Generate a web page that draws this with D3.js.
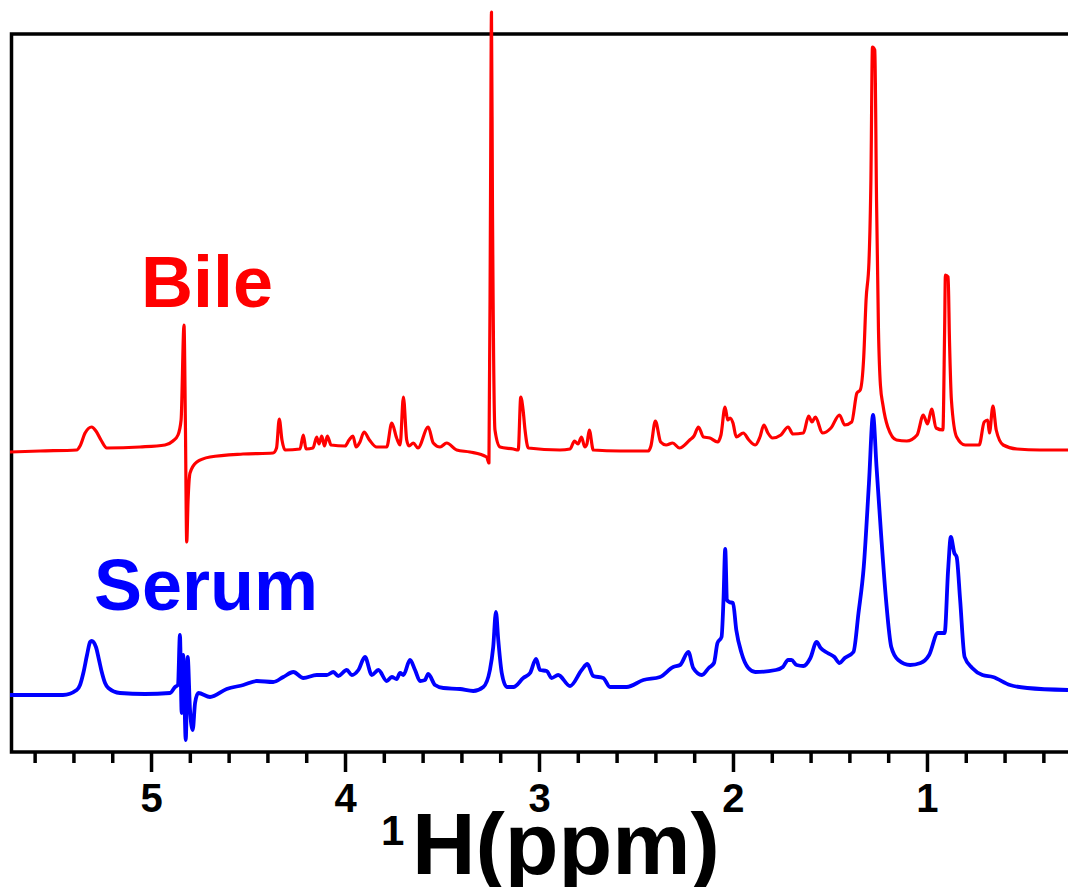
<!DOCTYPE html>
<html>
<head>
<meta charset="utf-8">
<script src="https://cdn.jsdelivr.net/npm/d3@7"></script>
<style>
  body { margin: 0; background: #fff; }
  svg { display: block; font-family: "Liberation Sans", Arial, sans-serif; }
</style>
</head>
<body>
<svg id="nmr" width="1068" height="887"></svg>
<script>
// 1H NMR spectra of bile and serum (ppm, intensity in a.u.)
const bilePpm = [5.727, 5.572, 5.383, 5.366, 5.340, 5.306, 5.284, 5.258, 5.228, 5.057,
  4.928, 4.887, 4.861, 4.845, 4.830, 4.823, 4.816, 4.809, 4.799, 4.764,
  4.696, 4.526, 4.371, 4.353, 4.339, 4.325, 4.309, 4.232, 4.215, 4.201,
  4.165, 4.146, 4.134, 4.120, 4.106, 4.091, 4.072, 4.000, 3.979, 3.959,
  3.943, 3.923, 3.902, 3.874, 3.837, 3.785, 3.759, 3.734, 3.716, 3.699,
  3.682, 3.670, 3.648, 3.624, 3.571, 3.545, 3.510, 3.476, 3.424, 3.356,
  3.270, 3.258, 3.250, 3.245, 3.240, 3.227, 3.201, 3.132, 3.107, 3.094,
  3.082, 3.072, 3.055, 2.892, 2.840, 2.817, 2.799, 2.781, 2.764, 2.753,
  2.741, 2.720, 2.582, 2.436, 2.423, 2.400, 2.373, 2.345, 2.311, 2.276,
  2.223, 2.201, 2.178, 2.152, 2.119, 2.080, 2.062, 2.041, 2.027, 2.015,
  2.000, 1.983, 1.947, 1.918, 1.885, 1.861, 1.841, 1.820, 1.796, 1.753,
  1.716, 1.691, 1.637, 1.610, 1.593, 1.575, 1.539, 1.495, 1.451, 1.424,
  1.388, 1.361, 1.344, 1.326, 1.314, 1.299, 1.289, 1.281, 1.269, 1.260,
  1.250, 1.240, 1.227, 1.202, 1.157, 1.104, 1.051, 1.019, 0.997, 0.976,
  0.953, 0.918, 0.909, 0.905, 0.891, 0.884, 0.874, 0.847, 0.803, 0.731,
  0.705, 0.687, 0.678, 0.660, 0.643, 0.607, 0.536, 0.418, 0.273];
const bileInt = [300, 301, 302, 306, 319, 325, 321, 312, 304, 305,
  307, 311, 317, 332, 427, 332, 210, 252, 279, 290,
  295, 298, 299, 304, 333, 312, 302, 303, 317, 303,
  304, 315, 308, 316, 306, 316, 307, 306, 312, 316,
  305, 310, 320, 312, 305, 305, 329, 314, 307, 355,
  312, 306, 309, 304, 325, 309, 305, 309, 302, 300,
  295, 289, 552, 740, 552, 322, 305, 303, 302, 355,
  342, 322, 304, 302, 303, 311, 308, 315, 305, 308,
  322, 302, 301, 301, 306, 331, 310, 307, 309, 304,
  312, 316, 325, 315, 314, 310, 317, 345, 332, 334,
  329, 315, 319, 312, 307, 315, 327, 319, 314, 317,
  325, 318, 319, 336, 330, 335, 319, 324, 337, 327,
  330, 359, 362, 395, 452, 490, 572, 705, 702, 552,
  422, 367, 347, 325, 312, 311, 317, 337, 328, 343,
  324, 322, 422, 477, 475, 412, 352, 315, 307, 307,
  330, 332, 319, 346, 322, 307, 303, 302, 302];

const serumPpm = [5.727, 5.454, 5.383, 5.366, 5.349, 5.330, 5.314, 5.306, 5.284, 5.268,
  5.254, 5.237, 5.220, 5.160, 5.031, 4.902, 4.876, 4.861, 4.851, 4.842,
  4.834, 4.821, 4.811, 4.799, 4.785, 4.773, 4.756, 4.696, 4.610, 4.524,
  4.455, 4.370, 4.318, 4.266, 4.215, 4.146, 4.094, 4.060, 4.035, 3.991,
  3.965, 3.931, 3.897, 3.862, 3.828, 3.785, 3.759, 3.734, 3.716, 3.699,
  3.665, 3.639, 3.613, 3.588, 3.571, 3.536, 3.493, 3.407, 3.339, 3.287,
  3.253, 3.236, 3.222, 3.210, 3.192, 3.166, 3.132, 3.081, 3.046, 3.015,
  2.995, 2.960, 2.935, 2.901, 2.840, 2.780, 2.751, 2.720, 2.669, 2.634,
  2.548, 2.462, 2.376, 2.308, 2.273, 2.230, 2.205, 2.160, 2.125, 2.098,
  2.080, 2.059, 2.049, 2.040, 2.031, 2.019, 2.000, 1.983, 1.956, 1.921,
  1.885, 1.779, 1.743, 1.716, 1.699, 1.672, 1.637, 1.601, 1.569, 1.548,
  1.512, 1.477, 1.451, 1.424, 1.379, 1.353, 1.326, 1.299, 1.278, 1.260,
  1.237, 1.211, 1.184, 1.148, 1.087, 1.033, 0.989, 0.944, 0.909, 0.891,
  0.877, 0.859, 0.847, 0.829, 0.806, 0.767, 0.714, 0.660, 0.572, 0.483,
  0.273];
const serumInt = [57, 57, 62, 67, 79, 97, 110, 111, 105, 92,
  80, 69, 64, 59, 58, 59, 65, 67, 117, 39,
  97, 12, 95, 42, 22, 49, 59, 55, 63, 67,
  71, 70, 75, 80, 74, 77, 77, 80, 76, 82,
  77, 82, 95, 77, 82, 71, 75, 73, 79, 77,
  92, 82, 71, 72, 78, 67, 64, 63, 61, 65,
  82, 105, 140, 112, 79, 65, 65, 74, 79, 93,
  82, 81, 74, 77, 66, 82, 88, 76, 74, 65,
  65, 72, 75, 85, 87, 100, 84, 77, 84, 89,
  109, 115, 152, 203, 152, 150, 149, 122, 99, 84,
  80, 82, 85, 92, 92, 87, 86, 94, 110, 104,
  99, 95, 89, 94, 100, 139, 185, 269, 337, 285,
  219, 152, 105, 92, 87, 89, 97, 119, 119, 182,
  215, 199, 195, 152, 95, 84, 77, 75, 67, 64,
  62];

const majorTicks = [5, 4, 3, 2, 1];
const sampleNames = ["Bile", "Serum"];
const sampleColors = ["#ff0000", "#0000ff"];

const svg = d3.select("#nmr");

// chemical shift axis runs right to left
const x = d3.scaleLinear()
    .domain([5.727, 0.273])
    .range([10, 1068]);

const y = d3.scaleLinear()
    .domain([0, 718])
    .range([752, 34]);

// plot frame (right side runs off the picture)
svg.append("path")
    .attr("d", `M1080,${y(718)}H${x(5.727) + 1.5}V${y(0)}H1080`)
    .attr("fill", "none")
    .attr("stroke", "#000")
    .attr("stroke-width", 3.5);

// minor ticks every 0.2 ppm
const minorTicks = d3.range(4, 58, 2).map(v => v / 10).filter(v => v % 1 !== 0);
const minorAxis = svg.append("g")
    .attr("transform", `translate(0,${y(0)})`)
    .call(d3.axisBottom(x).tickValues(minorTicks).tickSize(11).tickSizeOuter(0).tickFormat(""));
minorAxis.select(".domain").remove();
minorAxis.selectAll("line").attr("stroke-width", 3.5);

// major ticks with labels
const majorAxis = svg.append("g")
    .attr("transform", `translate(0,${y(0)})`)
    .call(d3.axisBottom(x).tickValues(majorTicks).tickSize(20).tickSizeOuter(0)
        .tickPadding(12).tickFormat(d3.format("d")));
majorAxis.select(".domain").remove();
majorAxis.selectAll("line").attr("stroke-width", 3.5);
majorAxis.selectAll("text")
    .attr("fill", "#000")
    .style("font-family", "'Liberation Sans', Arial, sans-serif")
    .style("font-weight", "bold")
    .style("font-size", "40px");

// spectra
const line = d3.line()
    .x(d => x(d[0]))
    .y(d => y(d[1]))
    .curve(d3.curveMonotoneX);

const spectra = [
    d3.zip(bilePpm, bileInt),
    d3.zip(serumPpm, serumInt)
];

svg.selectAll(".spectrum")
    .data(spectra)
    .enter()
    .append("path")
    .attr("class", "spectrum")
    .attr("d", line)
    .attr("fill", "none")
    .attr("stroke", (d, i) => sampleColors[i])
    .attr("stroke-width", (d, i) => i === 0 ? 3.2 : 3.8)
    .attr("stroke-linejoin", "round");

// sample labels
const labelPos = [[141, 307], [94, 610]];
svg.selectAll(".sample")
    .data(sampleNames)
    .enter()
    .append("text")
    .attr("class", "sample")
    .attr("x", (d, i) => labelPos[i][0])
    .attr("y", (d, i) => labelPos[i][1])
    .attr("fill", (d, i) => sampleColors[i])
    .style("font-weight", "bold")
    .style("font-size", "72px")
    .text(d => d);

// x axis title: 1H(ppm)
svg.append("text")
    .attr("x", 381)
    .attr("y", 845)
    .style("font-weight", "bold")
    .style("font-size", "42px")
    .text("1");
svg.append("text")
    .attr("x", 412)
    .attr("y", 874)
    .style("font-weight", "bold")
    .style("font-size", "88px")
    .text("H(ppm)");
</script>
</body>
</html>
